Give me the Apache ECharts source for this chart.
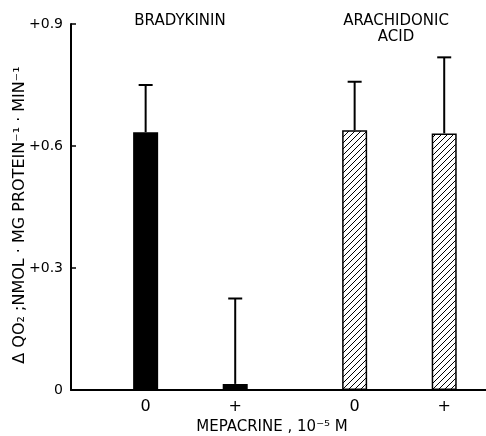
<!DOCTYPE html>
<html><head><meta charset="utf-8">
<script src="https://cdn.jsdelivr.net/npm/echarts@6/dist/echarts.min.js"></script>
<style>html,body{margin:0;padding:0;background:#fff}#c{width:486px;height:436px}</style>
</head><body><div id="c"></div>
<script>
// ---- data ----
const groups = ['BRADYKININ', 'ARACHIDONIC\nACID'];
const mepacrine = ['0', '+', '0', '+'];
const groupOfBar = [0, 0, 1, 1];
const means = [0.634, 0.015, 0.639, 0.631];
const errorTops = [0.750, 0.225, 0.758, 0.818];
const yTicks = [0, 0.3, 0.6, 0.9];
const slotOfBar = [2, 5, 9, 12];
const nSlots = 14;

// ---- build ----
const FONT = 'DejaVu Sans';
const pc = document.createElement('canvas'); pc.width = 6; pc.height = 6;
const g = pc.getContext('2d');
g.fillStyle = '#fff'; g.fillRect(0, 0, 6, 6);
g.strokeStyle = '#000'; g.lineWidth = 1;
g.beginPath();
g.moveTo(0, 6); g.lineTo(6, 0);
g.moveTo(-1, 1); g.lineTo(1, -1);
g.moveTo(5, 7); g.lineTo(7, 5);
g.stroke();

const slotLabels = Array(nSlots).fill('');
const barData = Array(nSlots).fill(null);
const errData = [];
slotOfBar.forEach((s, i) => {
  slotLabels[s] = mepacrine[i];
  barData[s] = {
    value: means[i],
    itemStyle: groupOfBar[i] === 0
      ? { color: '#000', borderColor: '#000', borderWidth: 1.5 }
      : { color: { image: pc, repeat: 'repeat' }, borderColor: '#000', borderWidth: 1.5 }
  };
  errData.push([s, means[i], errorTops[i]]);
});

const chart = echarts.init(document.getElementById('c'));
chart.setOption({
  backgroundColor: '#fff',
  animation: false,
  grid: { left: 71, width: 418, top: 24, bottom: 46, outerBoundsMode: 'none', containLabel: false },
  xAxis: {
    type: 'category', data: slotLabels,
    axisTick: { show: false },
    axisLine: { lineStyle: { color: '#000', width: 2 } },
    axisLabel: { interval: 0, color: '#000', fontSize: 16, fontFamily: FONT, margin: 9 }
  },
  yAxis: {
    type: 'value', min: 0, max: 0.9, interval: 0.3,
    splitLine: { show: false },
    axisLine: { show: true, lineStyle: { color: '#000', width: 2 } },
    axisTick: { show: true, inside: true, length: 5, lineStyle: { color: '#000', width: 1.5 } },
    axisLabel: {
      color: '#000', fontSize: 14, fontFamily: FONT, margin: 8,
      formatter: v => { const t = yTicks.find(k => Math.abs(k - v) < 1e-9); return t === 0 ? '0' : '+' + t.toFixed(1); }
    }
  },
  graphic: [
    { type: 'text', x: 180, y: 21, style: { text: groups[0], font: '15px "' + FONT + '"', fill: '#000', textAlign: 'center', textVerticalAlign: 'middle' } },
    { type: 'text', x: 396, y: 29, style: { text: groups[1], font: '15px "' + FONT + '"', fill: '#000', textAlign: 'center', textVerticalAlign: 'middle', lineHeight: 16 } },
    { type: 'text', x: 272, y: 427, style: { text: 'MEPACRINE , 10⁻⁵ M', font: '15px "' + FONT + '"', fill: '#000', textAlign: 'center', textVerticalAlign: 'middle' } },
    { type: 'text', x: 20, y: 215, rotation: Math.PI / 2, style: { text: 'Δ QO₂ ;NMOL · MG PROTEIN⁻¹ · MIN⁻¹', font: '16px "' + FONT + '"', fill: '#000', textAlign: 'center', textVerticalAlign: 'middle' } }
  ],
  series: [
    { type: 'bar', data: barData, barWidth: 25, barGap: '-100%' },
    {
      type: 'custom', data: errData, z: 3,
      renderItem: (params, api) => {
        const p0 = api.coord([api.value(0), api.value(1)]);
        const p1 = api.coord([api.value(0), api.value(2)]);
        return { type: 'group', children: [
          { type: 'line', shape: { x1: p0[0], y1: p0[1], x2: p1[0], y2: p1[1] }, style: { stroke: '#000', lineWidth: 2 } },
          { type: 'line', shape: { x1: p1[0] - 7, y1: p1[1], x2: p1[0] + 7, y2: p1[1] }, style: { stroke: '#000', lineWidth: 2 } }
        ]};
      }
    }
  ]
});
</script></body></html>
